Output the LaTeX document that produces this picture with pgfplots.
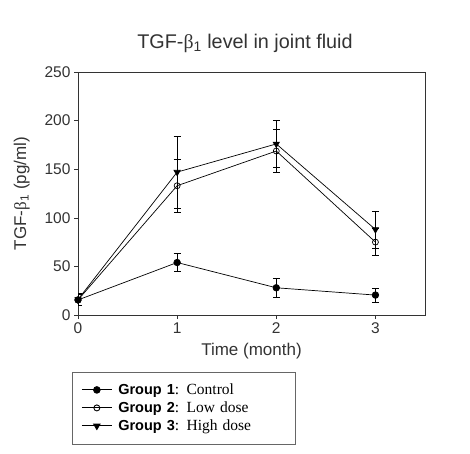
\documentclass[border=0pt]{standalone}
\usepackage{pgfplots}
\pgfplotsset{compat=1.18}
\usepackage{fontspec}
\setmainfont{Liberation Sans}
\newfontfamily\timesf{Liberation Serif}
\definecolor{txt}{HTML}{333333}
\newcommand{\legtxt}[2]{\hspace{4pt}{\fontsize{14.5}{17}\selectfont\textbf{#1}}{\timesf\fontsize{15.5}{17}\selectfont : #2}}
\begin{document}
\begin{tikzpicture}
\useasboundingbox (0,0) rectangle (470pt,453pt);
\node[font=\fontsize{19.8}{23}\selectfont, text=txt] at (245pt,410pt) {TGF-{\timesf β}\textsubscript{1} level in joint fluid};
\begin{axis}[
  at={(78pt,138pt)}, anchor=south west,
  scale only axis, width=347pt, height=243pt,
  xmin=0, xmax=3.5, ymin=0, ymax=250,
  xtick={0,1,2,3}, ytick={0,50,100,150,200,250},
  tick align=outside, xtick pos=bottom, ytick pos=left,
  major tick length=4pt,
  tick style={black!80, line width=0.6pt},
  axis line style={black!80, line width=0.7pt},
  /pgf/number format/assume math mode=true,
  ticklabel style={font=\fontsize{15.5}{18}\selectfont, text=txt},
  xlabel={Time (month)},
  ylabel={TGF-{\timesf β}\textsubscript{1} (pg/ml)},
  label style={font=\fontsize{17}{20}\selectfont, text=txt},
  xlabel style={yshift=-3pt},
  ylabel style={yshift=8pt},
  error bars/error bar style={black, line width=0.6pt},
  error bars/error mark options={rotate=90, mark size=3.5pt, black, line width=0.6pt},
  legend style={at={(-0.017,-0.233)}, anchor=north west, draw=black!60, line width=0.6pt,
    font=\fontsize{15}{17}\selectfont, text=black, inner xsep=9pt, inner ysep=9pt,
    row sep=0pt, text width=170pt, minimum height=18pt},
  legend cell align=left,
  legend image code/.code={\draw[line width=0.9pt, mark repeat=2,mark phase=2] plot coordinates {(0pt,0pt) (15pt,0pt) (30pt,0pt)};},
]
\addplot[black, line width=0.7pt, mark=*, mark size=3.3pt, mark options={fill=black, solid},
  error bars/.cd, y dir=both, y explicit] table[x=x, y=y, y error=e] {
x y e
0 15.5 6
1 54 9
2 28 10
3 20.5 7
};
\addlegendentry{\legtxt{Group 1}{Control}}
\addplot[black, line width=0.7pt, mark=o, mark size=3pt, mark options={fill=white, solid},
  error bars/.cd, y dir=both, y explicit] table[x=x, y=y, y error=e] {
x y e
0 15.5 6
1 133 27
2 168.7 22
3 75 14
};
\addlegendentry{\legtxt{Group 2}{Low dose}}
\addplot[black, line width=0.7pt, mark=triangle*, mark size=3.6pt, mark options={fill=black, solid, rotate=180},
  error bars/.cd, y dir=both, y explicit] table[x=x, y=y, y error=e] {
x y e
0 16 6
1 147 37
2 176 24
3 88 19
};
\addlegendentry{\legtxt{Group 3}{High dose}}
\end{axis}
\end{tikzpicture}
\end{document}
